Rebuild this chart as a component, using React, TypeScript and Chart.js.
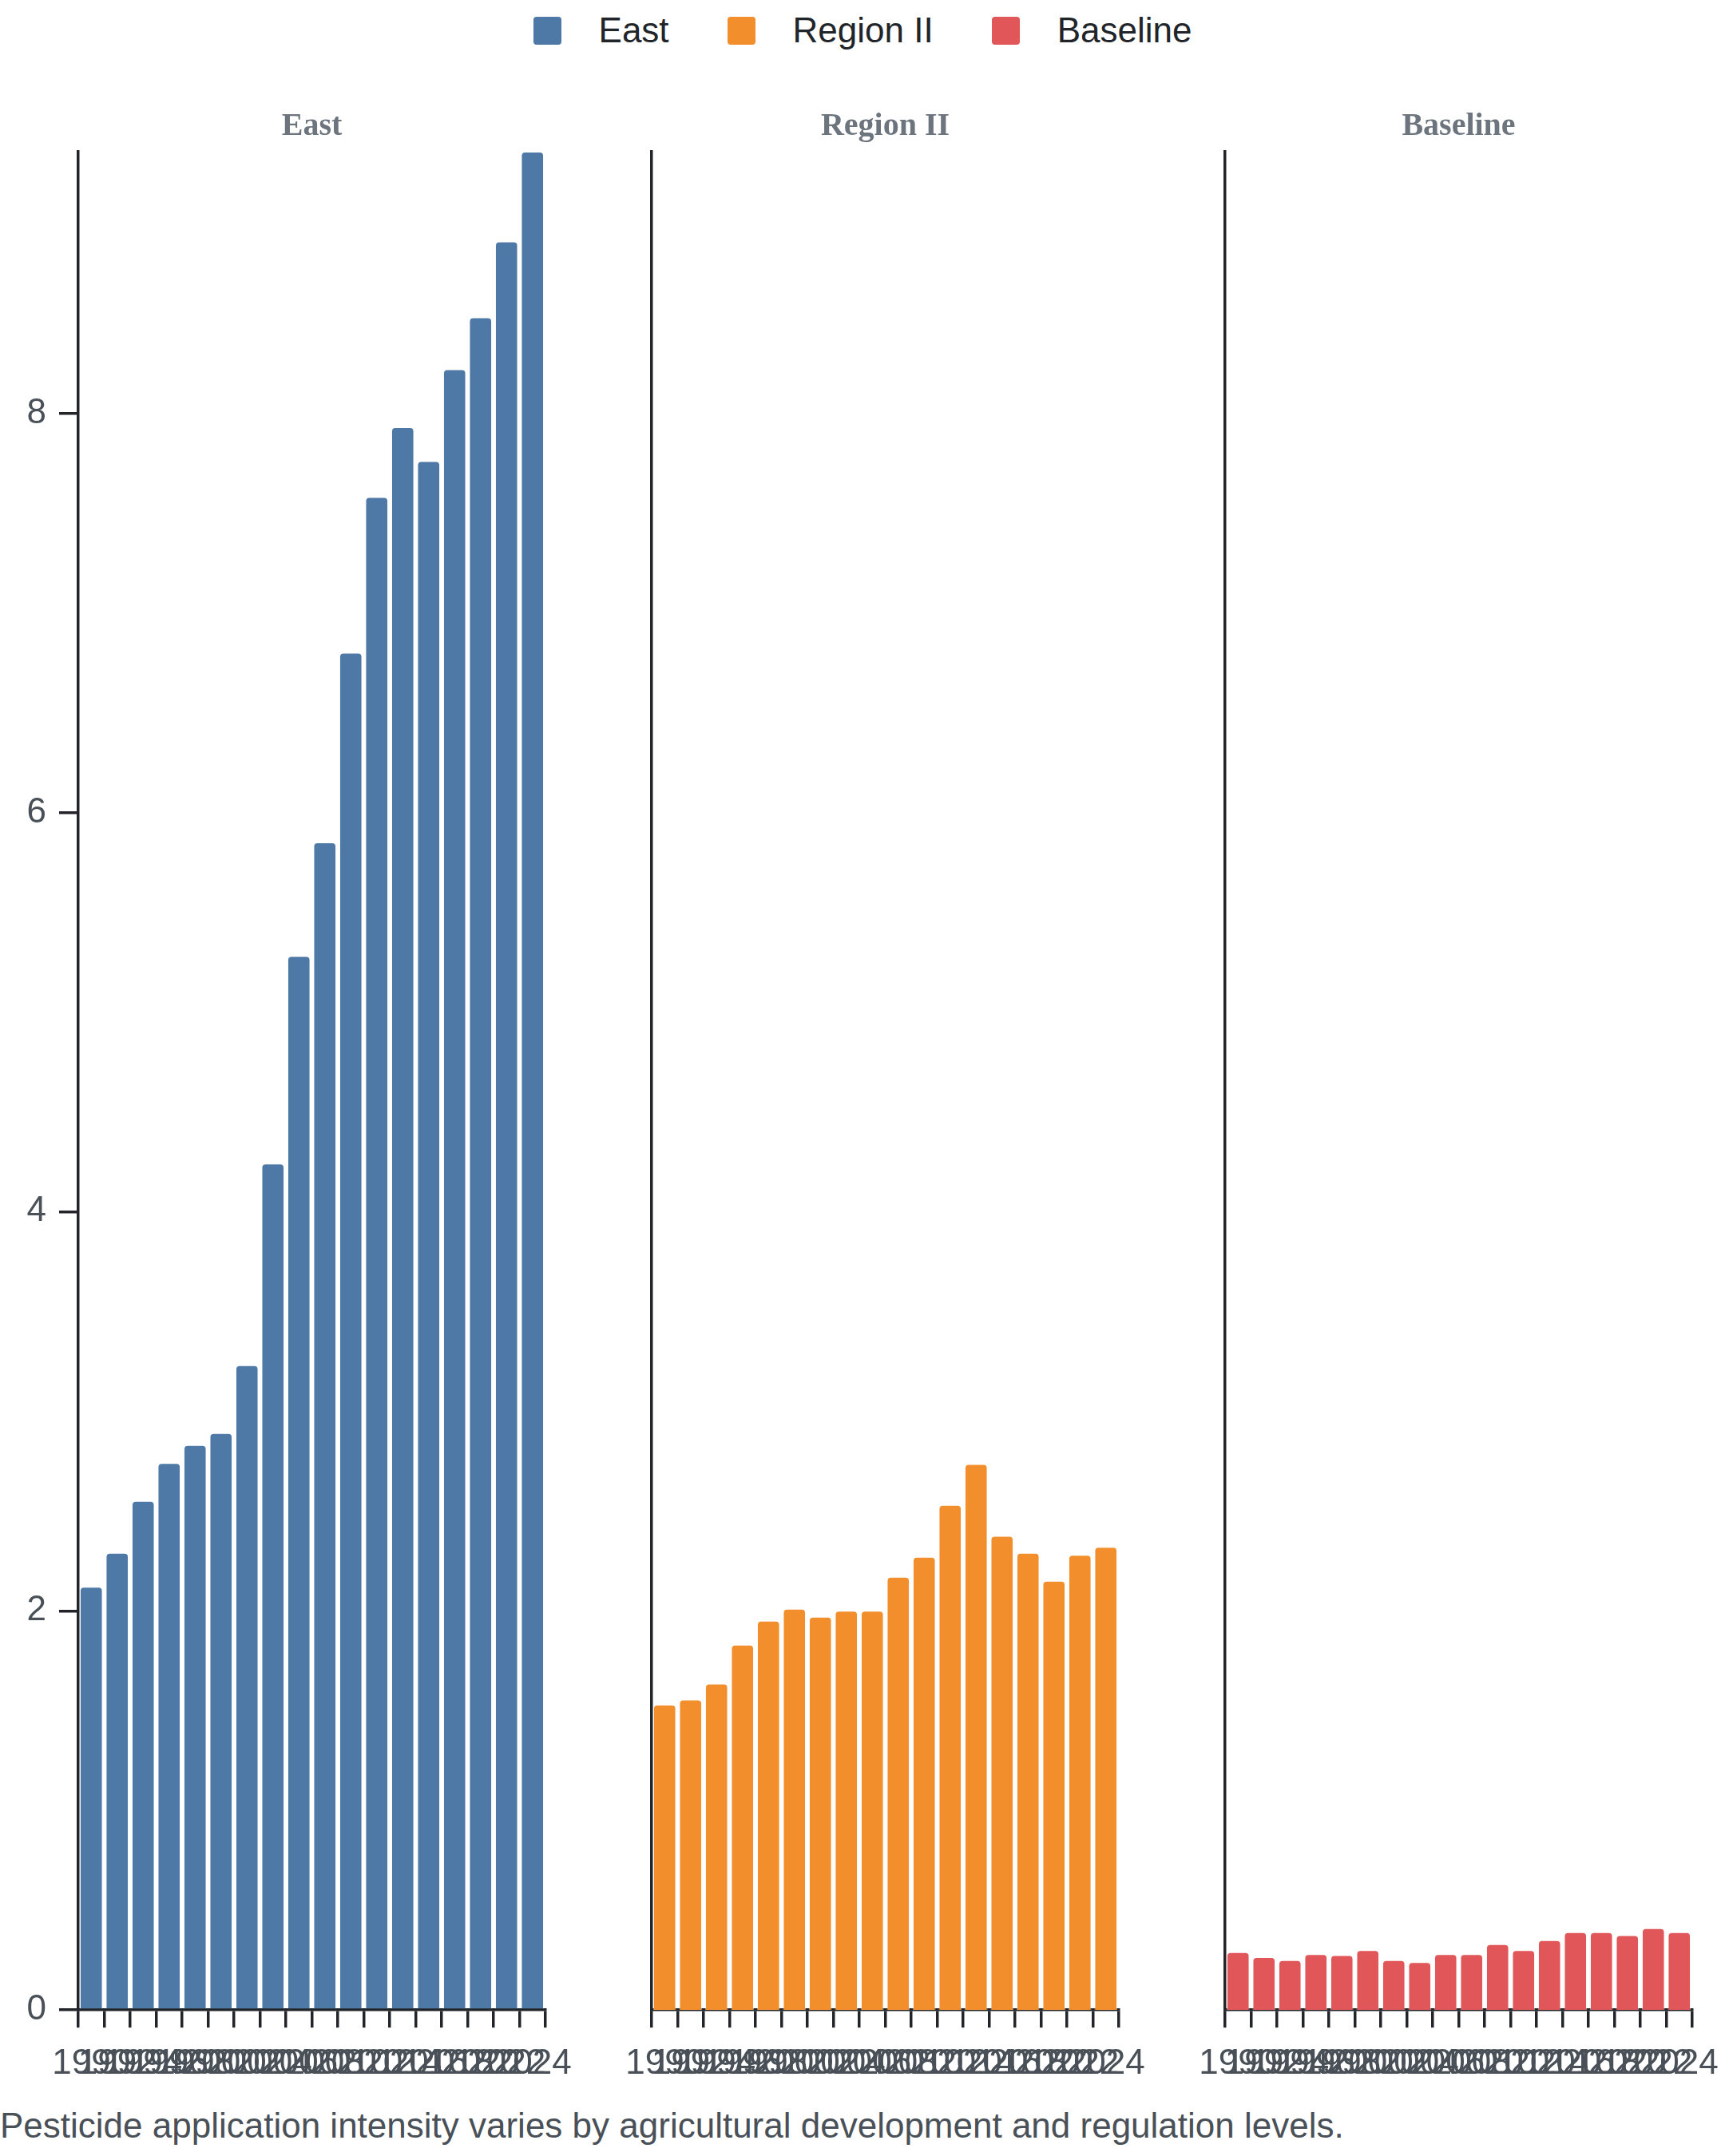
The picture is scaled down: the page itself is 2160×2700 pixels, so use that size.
import { useEffect, useRef } from 'react';
import { Chart, registerables } from 'chart.js';

Chart.register(...registerables);

const years = ['1990', '1992', '1994', '1996', '1998', '2000', '2002', '2004', '2006', '2008', '2010', '2012', '2014', '2016', '2018', '2020', '2022', '2024'];
const eastValues = [2.12, 2.29, 2.55, 2.74, 2.83, 2.89, 3.23, 4.24, 5.28, 5.85, 6.8, 7.58, 7.93, 7.76, 8.22, 8.48, 8.86, 9.31];
const regionIIValues = [1.53, 1.555, 1.635, 1.83, 1.95, 2.01, 1.97, 2.0, 2.0, 2.17, 2.27, 2.53, 2.735, 2.375, 2.29, 2.15, 2.28, 2.32];
const baselineValues = [0.29, 0.265, 0.25, 0.28, 0.275, 0.3, 0.25, 0.24, 0.28, 0.28, 0.33, 0.3, 0.35, 0.39, 0.39, 0.375, 0.41, 0.39];
const seriesNames = ['East', 'Region II', 'Baseline'];
const seriesColors = ['#4e79a7', '#f28e2b', '#e15759'];
const yTicks = [0, 2, 4, 6, 8];
const caption = 'Pesticide application intensity varies by agricultural development and regulation levels.';

const sans = '"Liberation Sans", Arial, sans-serif';
const dark = '#212529';
const yMax = Math.max(...eastValues, ...regionIIValues, ...baselineValues);

type PanelProps = {
	title: string;
	values: number[];
	color: string;
	showYLabels: boolean;
};

function Panel({ title, values, color, showYLabels }: PanelProps) {
	const canvasRef = useRef<HTMLCanvasElement | null>(null);

	useEffect(() => {
		if (!canvasRef.current) return;
		const chart = new Chart(canvasRef.current, {
			type: 'bar',
			data: {
				labels: years,
				datasets: [
					{
						label: title,
						data: values,
						backgroundColor: color,
						borderColor: 'rgba(255,255,255,0.45)',
						borderWidth: 1,
						borderRadius: 5,
						barPercentage: 0.88,
						categoryPercentage: 1,
					},
				],
			},
			options: {
				animation: false,
				responsive: true,
				maintainAspectRatio: false,
				layout: { padding: { top: 0, bottom: 0, left: 0, right: 35 } },
				scales: {
					x: {
						afterFit: (axis) => {
							axis.paddingLeft = 0;
							axis.paddingRight = 0;
						},
						grid: {
							drawOnChartArea: false,
							drawTicks: true,
							tickLength: 22,
							lineWidth: 3.5,
							color: dark,
						},
						border: { display: true, color: dark, width: 3.5 },
						ticks: {
							autoSkip: false,
							maxRotation: 0,
							minRotation: 0,
							padding: 19,
							color: '#495057',
							font: { family: sans, size: 44 },
						},
					},
					y: {
						min: 0,
						max: yMax,
						afterBuildTicks: (axis) => {
							axis.ticks = yTicks.map((v) => ({ value: v }));
						},
						afterFit: (axis) => {
							axis.width = 98;
						},
						grid: {
							display: showYLabels,
							drawOnChartArea: false,
							drawTicks: true,
							tickLength: 24,
							lineWidth: 3.5,
							color: dark,
						},
						border: { display: true, color: dark, width: 3.5 },
						ticks: {
							display: showYLabels,
							padding: 16,
							color: '#495057',
							font: { family: sans, size: 44 },
						},
					},
				},
				plugins: {
					legend: { display: false },
					tooltip: { enabled: false },
					title: {
						display: true,
						text: title,
						fullSize: false,
						color: '#6c757d',
						font: { family: '"Liberation Serif", "Times New Roman", serif', size: 40, weight: 'bold' },
						padding: { top: 35, bottom: 7 },
					},
				},
			},
		});
		return () => {
			chart.destroy();
		};
	}, [title, values, color, showYLabels]);

	return (
		<div style={{ position: 'relative', width: '718px', height: '2530px' }}>
			<canvas ref={canvasRef}></canvas>
		</div>
	);
}

export default function App() {
	useEffect(() => {
		document.body.style.margin = '0';
	}, []);

	const panelValues = [eastValues, regionIIValues, baselineValues];

	return (
		<div style={{ position: 'relative', width: '2160px', height: '2700px', background: '#fff' }}>
			<div
				style={{
					position: 'absolute',
					top: '20px',
					left: 0,
					width: '2160px',
					display: 'flex',
					justifyContent: 'center',
					gap: '73px',
					fontFamily: sans,
					fontSize: '44px',
					lineHeight: '36px',
					color: dark,
				}}>
				{seriesNames.map((name, i) => (
					<div key={name} style={{ display: 'flex', alignItems: 'center', gap: '47px' }}>
						<span
							style={{
								display: 'inline-block',
								width: '35px',
								height: '35px',
								borderRadius: '4px',
								background: seriesColors[i],
							}}></span>
						<span>{name}</span>
					</div>
				))}
			</div>
			<div style={{ position: 'absolute', top: '100px', left: 0, display: 'flex' }}>
				{seriesNames.map((name, i) => (
					<Panel key={name} title={name} values={panelValues[i]} color={seriesColors[i]} showYLabels={i === 0} />
				))}
			</div>
			<div
				style={{
					position: 'absolute',
					top: '2640px',
					left: 0,
					fontFamily: sans,
					fontSize: '44px',
					lineHeight: '44px',
					color: '#495057',
					whiteSpace: 'nowrap',
				}}>
				{caption}
			</div>
		</div>
	);
}
